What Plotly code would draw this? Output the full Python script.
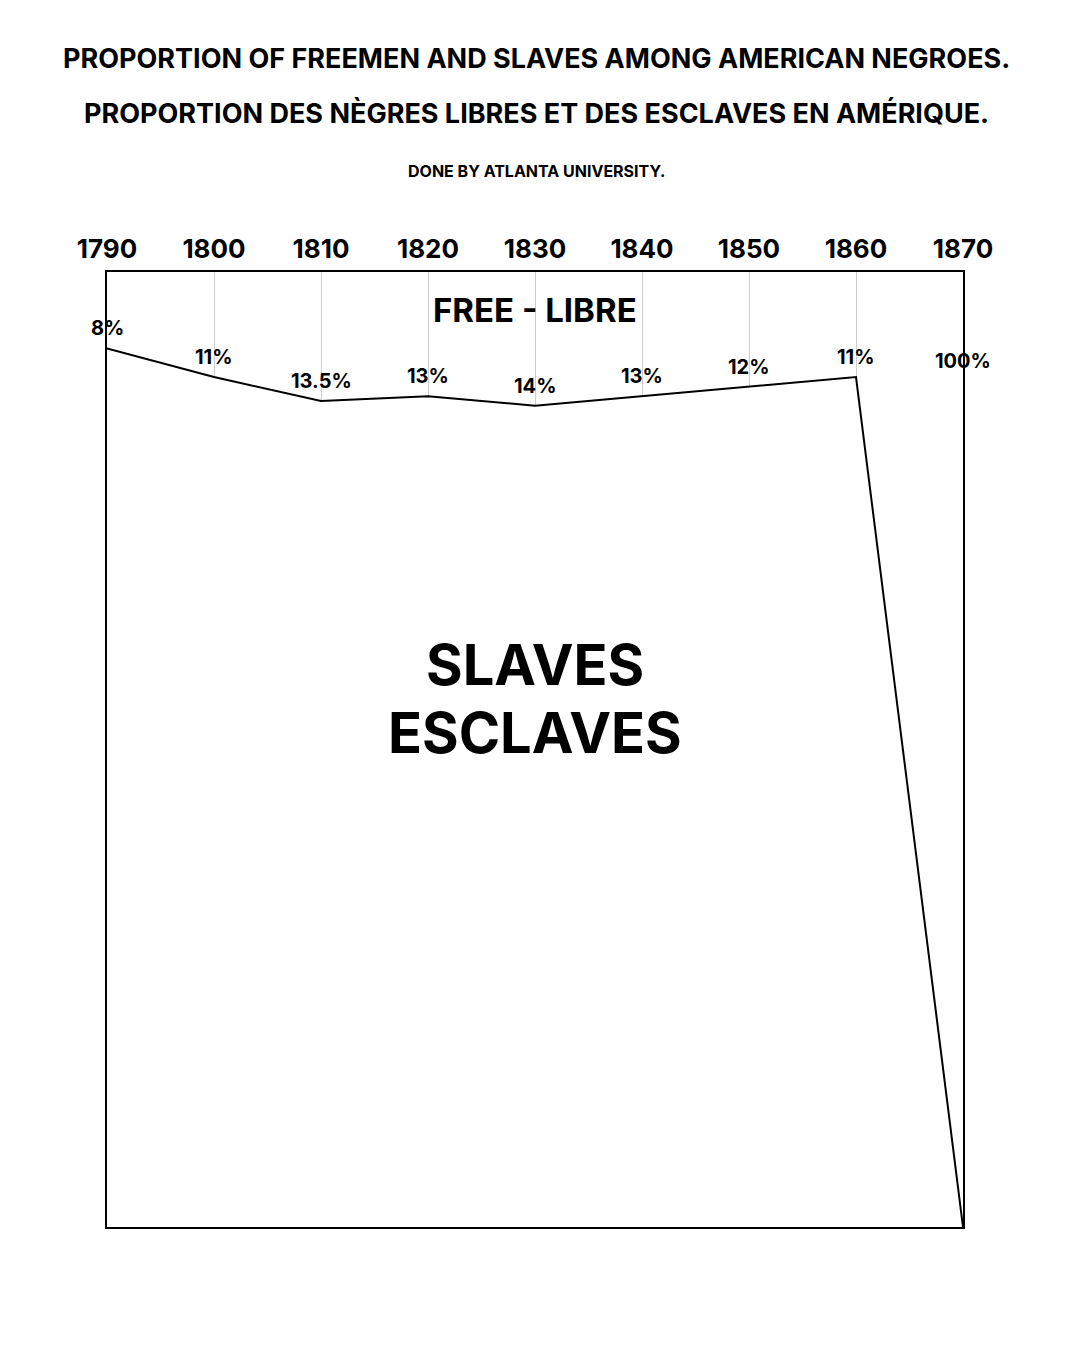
import plotly.graph_objects as go

years = [1790, 1800, 1810, 1820, 1830, 1840, 1850, 1860, 1870]
free_pct = [8, 11, 13.5, 13, 14, 13, 12, 11, 100]
pct_labels = ["8%", "11%", "13.5%", "13%", "14%", "13%", "12%", "11%", "100%"]
tick_labels = [str(y) for y in years]

title_en = "PROPORTION OF FREEMEN AND SLAVES AMONG AMERICAN NEGROES."
title_fr = "PROPORTION DES NÈGRES LIBRES ET DES ESCLAVES EN AMÉRIQUE."
credit = "DONE BY ATLANTA UNIVERSITY."
free_label = "FREE - LIBRE"
slave_label_en = "SLAVES"
slave_label_fr = "ESCLAVES"

FONT = "Inter"
W, H = 1071, 1365
L, R, T, B = 107, 108, 272, 138

fig = go.Figure()
# base at 100% so the slaves area can be filled (covers gridlines)
fig.add_trace(go.Scatter(
    x=years, y=[100] * len(years), mode="lines",
    line=dict(color="rgba(0,0,0,0)", width=0),
    hoverinfo="skip", showlegend=False,
))
fig.add_trace(go.Scatter(
    x=years, y=free_pct, mode="lines",
    line=dict(color="black", width=2),
    fill="tonexty", fillcolor="white",
    hoverinfo="skip", showlegend=False,
))

annotations = []
for i, (x, v, lab) in enumerate(zip(years, free_pct, pct_labels)):
    yv = v if v < 50 else free_pct[i - 1]
    annotations.append(dict(
        x=x, y=yv, xref="x", yref="y", text=lab, showarrow=False,
        xanchor="center", yanchor="middle",
        yshift=20 if v < 50 else 16,
        font=dict(family=FONT, size=20, color="black", weight=700),
    ))

def py(ypix):
    return 1 - (ypix - T) / (H - T - B)

def px(xpix):
    return (xpix - L) / (W - L - R)

def txt(x, y, text, size, xref="paper"):
    return dict(x=x, y=y, xref=xref, yref="paper", text=text, showarrow=False,
                xanchor="center", yanchor="middle",
                font=dict(family=FONT, size=size, color="black", weight=700))

annotations += [
    txt(px(536), py(58), title_en, 27),
    txt(px(536), py(113), title_fr, 27),
    txt(px(536), py(171), credit, 16),
    txt(1830, py(310), free_label, 33, xref="x"),
    txt(1830, py(665), slave_label_en, 56, xref="x"),
    txt(1830, py(733), slave_label_fr, 56, xref="x"),
]

fig.update_layout(
    width=W, height=H,
    margin=dict(l=L, r=R, t=T, b=B),
    paper_bgcolor="white", plot_bgcolor="white",
    annotations=annotations,
    xaxis=dict(
        side="top", range=[1790, 1870], tickvals=years, ticktext=tick_labels,
        showgrid=True, gridcolor="#cccccc", gridwidth=1, zeroline=False,
        showline=True, linecolor="black", linewidth=2, mirror=True,
        ticks="", ticklen=0, ticklabelstandoff=2,
        tickfont=dict(family=FONT, size=26, color="black", weight=700),
        fixedrange=True,
    ),
    yaxis=dict(
        range=[100, 0], showticklabels=False, showgrid=False, zeroline=False,
        showline=True, linecolor="black", linewidth=2, mirror=True, ticks="",
        fixedrange=True,
    ),
)

fig.write_html("out.html")
